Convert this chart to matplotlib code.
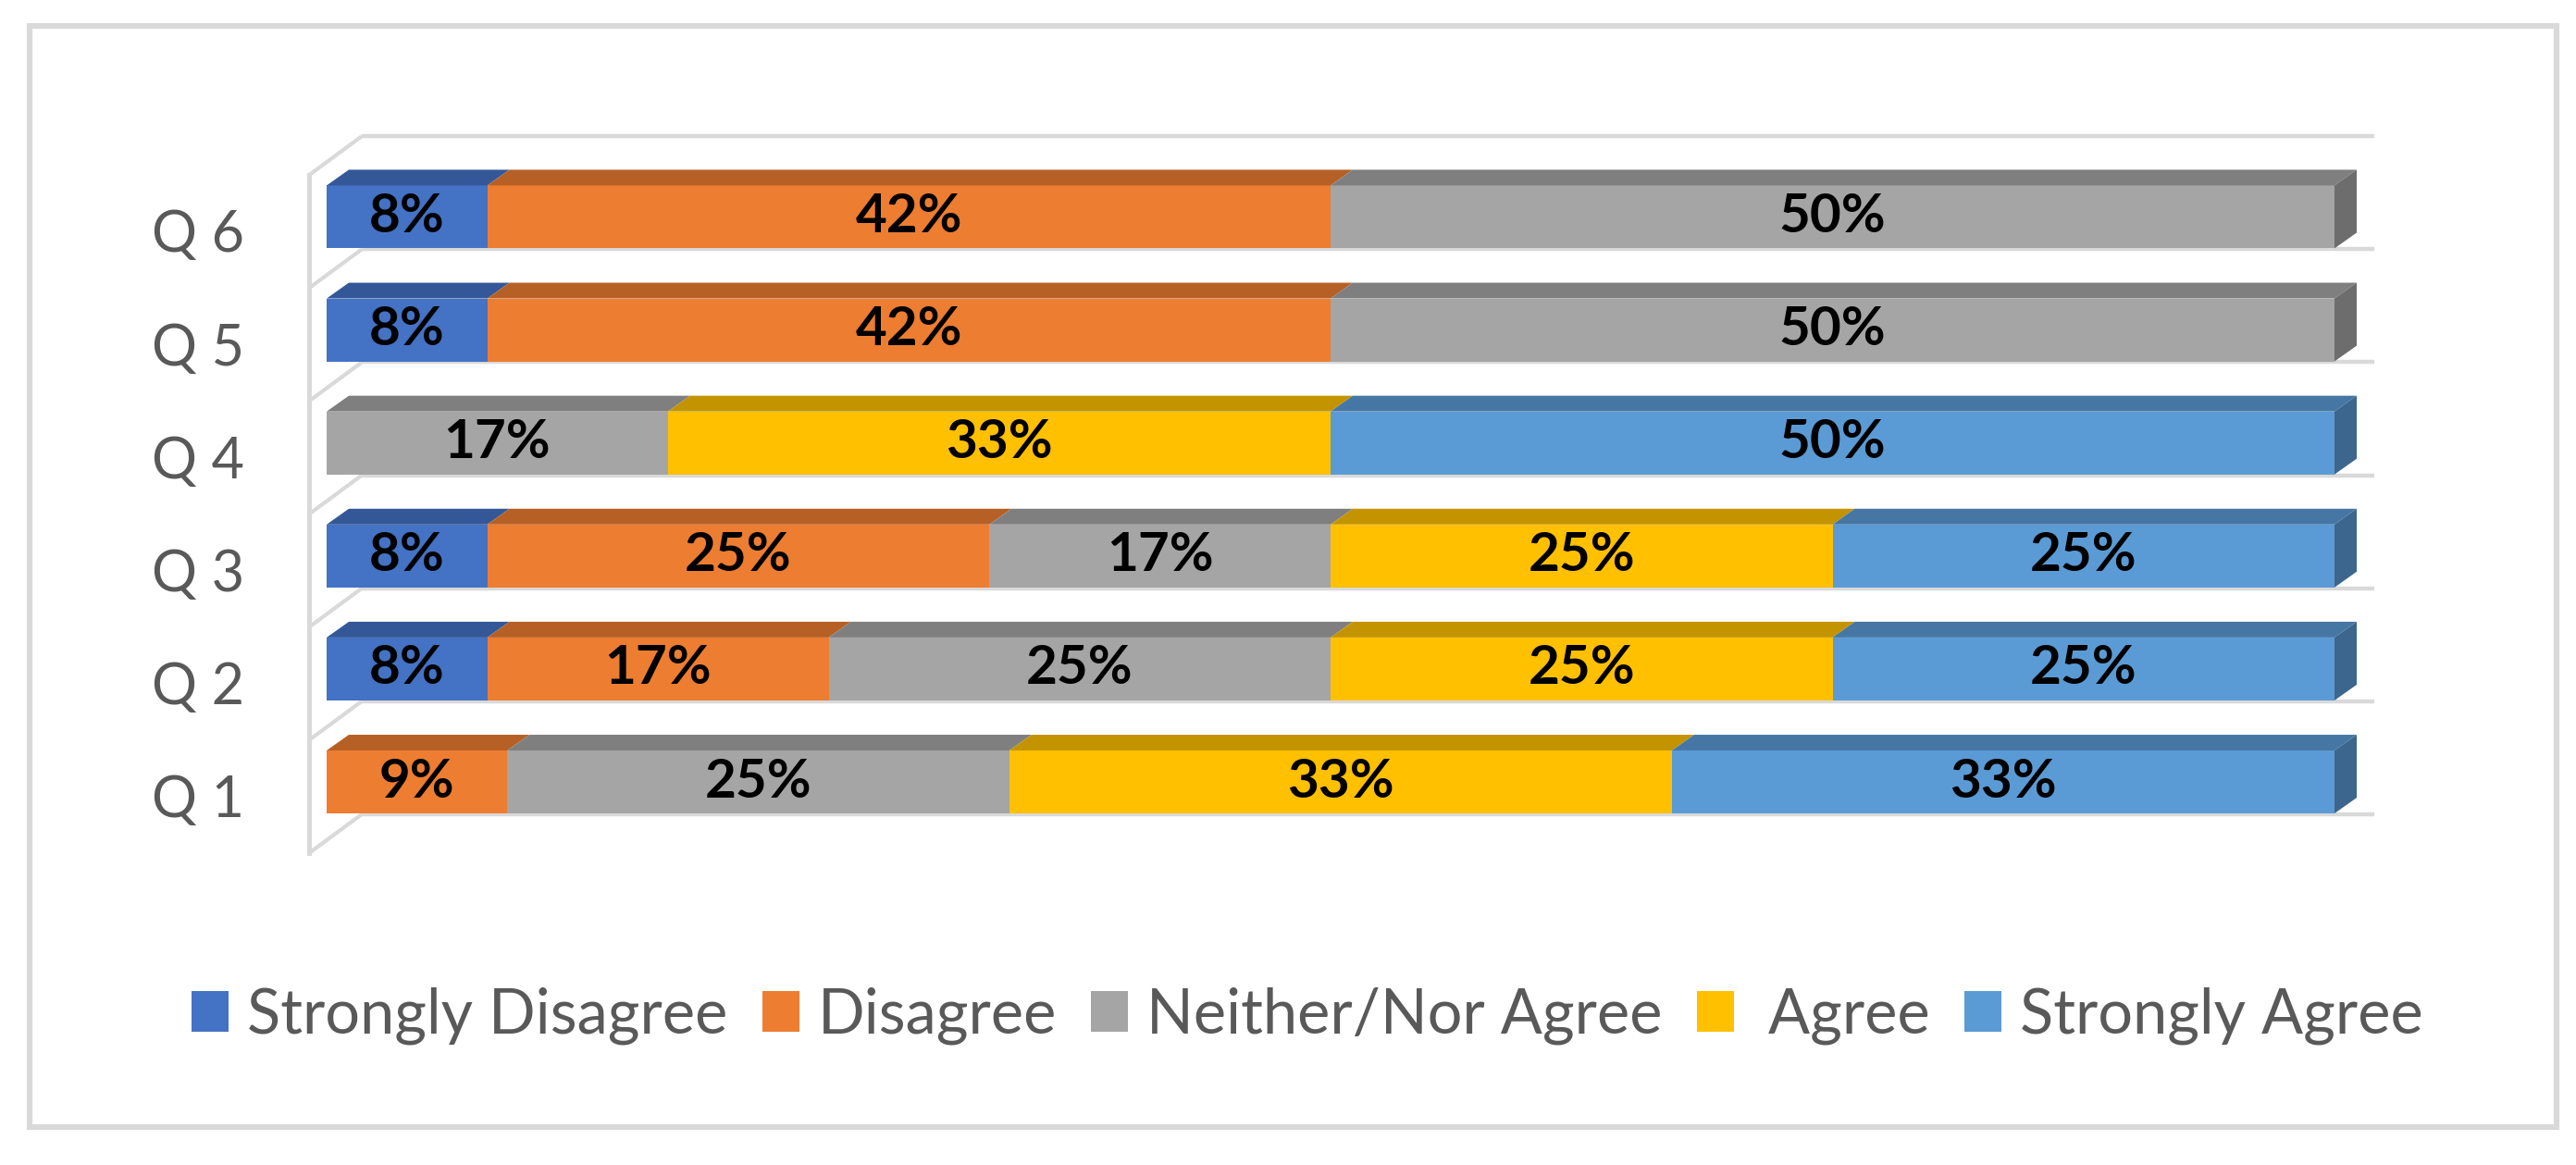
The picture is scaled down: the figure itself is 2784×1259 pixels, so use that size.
import matplotlib.pyplot as plt
from matplotlib.patches import Polygon, Rectangle, Patch
from matplotlib.transforms import ScaledTranslation
import matplotlib.colors as mcolors

plt.rcParams['font.family'] = ['Lato', 'DejaVu Sans']

# Datos (porcentaje por pregunta)
preguntas = ['Q 1', 'Q 2', 'Q 3', 'Q 4', 'Q 5', 'Q 6']
categorias = ['Strongly Disagree', 'Disagree', 'Neither/Nor Agree', ' Agree', 'Strongly Agree']
muy_desacuerdo = [0, 8, 8, 0, 8, 8]
desacuerdo = [9, 17, 25, 0, 42, 42]
neutral = [25, 25, 17, 17, 50, 50]
acuerdo = [33, 25, 25, 33, 0, 0]
muy_acuerdo = [33, 25, 25, 50, 0, 0]
colores = ['#4472C4', '#ED7D31', '#A5A5A5', '#FFC000', '#5B9BD5']

series = [muy_desacuerdo, desacuerdo, neutral, acuerdo, muy_acuerdo]

W, H, DPI = 2784, 1259, 200
fig = plt.figure(figsize=(W / DPI, H / DPI), dpi=DPI)
ax_ancho = (2523 - 353) / W
ax = fig.add_axes([353 / W, 0.2803, ax_ancho, 0.582])
ax.set_xlim(0, 100)
ax.set_ylim(-0.5, 5.5)

# pixeles -> unidades de datos
px_x = 100 / (ax_ancho * W)
px_y = 6 / (0.582 * H)

alto = 0.557
dx, dy = 24 * px_x, 17 * px_y  # profundidad de las barras
gris_linea = '#D9D9D9'

# Pared lateral y lineas de fondo (efecto 3D)
x_frente, x_fondo = -19 * px_x, 38 * px_x
prof_y = 42 * px_y
for k in range(7):
    y0 = k - 0.63
    ax.plot([x_frente, x_fondo], [y0, y0 + prof_y], color=gris_linea, lw=1.5,
            clip_on=False, zorder=1, solid_capstyle='butt')
    ax.plot([x_fondo, 102], [y0 + prof_y, y0 + prof_y], color=gris_linea, lw=1.6,
            clip_on=False, zorder=1, solid_capstyle='butt')
ax.plot([x_frente, x_frente], [-0.63, 6 - 0.63], color=gris_linea, lw=1.8,
        clip_on=False, zorder=1)

def oscurecer(c, f):
    r, g, b = mcolors.to_rgb(c)
    return (r * f, g * f, b * f)

for i in range(len(preguntas)):
    izquierda = 0
    ultimo = None
    for j, valores in enumerate(series):
        v = valores[i]
        if v <= 0:
            continue
        ax.barh(i, v, left=izquierda, height=alto, color=colores[j], zorder=3)
        arriba = i + alto / 2
        cara_sup = Polygon([(izquierda, arriba), (izquierda + v, arriba),
                            (izquierda + v + dx, arriba + dy), (izquierda + dx, arriba + dy)],
                           closed=True, color=oscurecer(colores[j], 0.77), lw=0,
                           zorder=3, clip_on=False)
        ax.add_patch(cara_sup)
        ax.text(izquierda + v / 2, i, f'{v}%', ha='center', va='center',
                fontsize=21, fontweight='bold', color='black', zorder=6)
        izquierda += v
        ultimo = j
    # cara lateral derecha
    abajo = i - alto / 2
    arriba = i + alto / 2
    lateral = Polygon([(izquierda, abajo), (izquierda, arriba),
                       (izquierda + dx, arriba + dy), (izquierda + dx, abajo + dy)],
                      closed=True, color=oscurecer(colores[ultimo], 0.66), lw=0,
                      zorder=3, clip_on=False)
    ax.add_patch(lateral)

ax.set_yticks(range(len(preguntas)))
ax.set_yticklabels(preguntas, fontsize=22, color='#595959')
ax.tick_params(axis='y', length=0, pad=32)
desplazamiento = ScaledTranslation(0, -15 / DPI, fig.dpi_scale_trans)
for etiqueta in ax.get_yticklabels():
    etiqueta.set_transform(etiqueta.get_transform() + desplazamiento)
ax.set_xticks([])
for s in ax.spines.values():
    s.set_visible(False)

# Leyenda
handles = [Patch(facecolor=c, edgecolor='none') for c in colores]
fig.legend(handles, categorias, loc='center', bbox_to_anchor=(0.5075, 0.128), ncol=5,
           frameon=False, fontsize=24, handlelength=0.6, handleheight=0.65,
           handletextpad=0.3, columnspacing=0.56, labelcolor='#595959')

# Marco exterior
fig.add_artist(Rectangle((32 / W, 1 - 1218 / H), (2763 - 32) / W, (1218 - 28) / H,
                         transform=fig.transFigure, fill=False, ec=gris_linea, lw=2.2))

plt.savefig('out.png', dpi=DPI)
